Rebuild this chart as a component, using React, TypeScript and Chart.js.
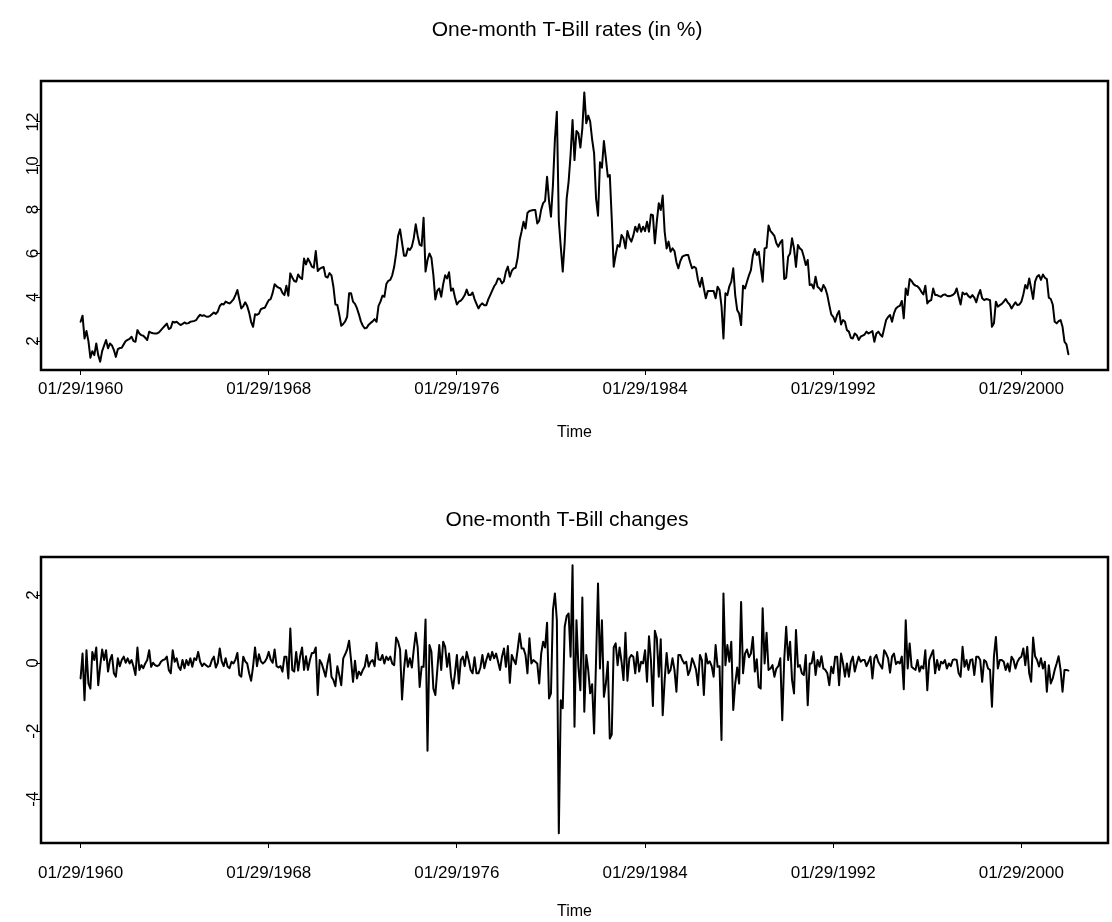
import React, { useEffect, useRef } from "react";
import { Chart, registerables } from "chart.js";

Chart.register(...registerables);

const FONT = '"Liberation Sans", Arial, Helvetica, sans-serif';

// One-month T-Bill rates (in %), monthly starting Jan 1960
const rateStepMonths = 1;
const rates = [
  2.88, 3.16, 2.12, 2.46, 2.0, 1.24, 1.54, 1.36, 1.89, 1.36,
  1.06, 1.54, 1.8, 2.05, 1.67, 1.89, 1.8, 1.59, 1.28, 1.63,
  1.68, 1.7, 1.85, 2.0, 2.05, 2.1, 2.2, 2.0, 1.97, 2.5,
  2.35, 2.27, 2.24, 2.15, 2.05, 2.43, 2.38, 2.36, 2.35, 2.35,
  2.4, 2.5, 2.6, 2.7, 2.8, 2.55, 2.6, 2.88, 2.85, 2.88,
  2.8, 2.73, 2.78, 2.85, 2.8, 2.82, 2.88, 2.9, 2.92, 2.96,
  3.1, 3.2, 3.15, 3.18, 3.12, 3.11, 3.14, 3.22, 3.3, 3.24,
  3.35, 3.6,
  3.7, 3.67, 3.8, 3.75, 3.72, 3.8, 3.9, 4.1, 4.33, 3.9,
  3.49, 3.6, 3.77, 3.6, 3.3, 2.88, 2.65, 3.22, 3.2, 3.25,
  3.46, 3.5, 3.52, 3.7, 3.87, 3.92, 4.2, 4.59, 4.5, 4.44,
  4.4, 4.2, 4.1, 4.53, 4.07, 5.09, 4.9, 4.74, 4.71, 5.04,
  4.9, 4.83, 5.77, 5.5, 5.77, 5.6, 5.4, 5.35, 6.11, 5.2,
  5.3, 5.35, 5.38, 4.94, 4.9, 5.1, 5.0, 4.48, 3.67, 3.65,
  3.2, 2.7, 2.78, 2.9, 3.11, 4.18, 4.18, 3.8, 3.7, 3.5,
  3.22, 2.9, 2.7, 2.58, 2.61, 2.75, 2.83, 2.9, 3.0, 2.88,
  3.61, 3.8, 4.07, 4.02, 4.6, 4.75,
  4.79, 5.0, 5.39, 6.0, 6.8, 7.1, 6.5, 5.9, 5.9, 6.23,
  6.16, 6.31, 6.7, 7.33, 6.8, 6.4, 6.35, 7.63, 5.17, 5.7,
  6.0, 5.8, 5.01, 3.9, 4.3, 4.4, 4.02, 4.6, 5.0, 4.86,
  5.14, 4.3, 4.4, 4.0, 3.67, 3.8, 3.85, 3.95, 4.1, 4.35,
  4.1, 4.1, 4.22, 3.92, 3.7, 3.49, 3.65, 3.72, 3.64, 3.64,
  3.9, 4.1, 4.3, 4.5, 4.63, 4.86, 4.83, 4.63, 4.74, 5.17,
  5.4, 4.94, 5.2, 5.32, 5.35, 5.8, 6.6, 7.0, 7.45, 7.14,
  7.85, 7.94, 7.96, 7.98, 7.98, 7.37, 7.5, 8.0, 8.3, 8.4,
  9.5, 8.4, 7.68, 9.12, 11.2, 12.47,
  7.47, 6.3, 5.17, 6.5, 8.5, 9.28, 10.5, 12.09, 10.26, 11.59,
  11.48, 10.83, 11.71, 13.35, 11.94, 12.29, 12.02, 11.2, 10.57, 8.51,
  7.72, 10.16, 9.91, 11.13, 10.34, 9.5, 9.58, 7.6, 5.39, 5.93,
  6.38, 6.31, 6.84, 6.69, 6.23, 7.02, 6.7, 6.54, 6.81, 7.22,
  6.99, 7.33, 6.99, 7.22, 7.02, 7.45, 6.99, 7.78, 7.75, 6.46,
  7.45, 8.29, 7.98, 8.64, 6.99, 6.23, 6.54, 6.08, 6.23, 6.11,
  5.6, 5.32, 5.65, 5.85, 5.9, 5.93, 5.93, 5.6, 5.32, 5.39,
  5.32, 4.8, 4.48, 4.89, 4.4, 3.95, 4.28, 4.28, 4.28, 4.28,
  3.95, 4.48, 4.33, 3.6, 2.12, 4.18, 4.1, 4.5,
  4.71, 5.32, 4.1, 3.42, 3.26, 2.73, 4.53, 4.4, 4.71, 5.0,
  5.24, 5.9, 6.2, 5.93, 6.08, 5.39, 4.71, 6.23, 6.26, 7.27,
  7.02, 6.92, 6.8, 6.46, 6.31, 6.5, 6.61, 4.83, 4.89, 5.85,
  6.0, 6.69, 6.23, 5.39, 6.38, 6.23, 6.16, 5.85, 5.47, 5.7,
  4.56, 4.59, 4.4, 4.94, 4.48, 4.4, 4.28, 4.56, 4.4, 4.1,
  3.64, 3.22, 3.11, 2.88, 3.2, 3.37, 2.76, 2.96, 2.88, 2.5,
  2.43, 2.15, 2.12, 2.35, 2.27, 2.05, 2.2, 2.25, 2.3, 2.43,
  2.35, 2.4, 2.46, 1.97, 2.35, 2.43, 2.3, 2.2, 2.58, 2.96,
  3.1, 3.19, 2.88, 3.26, 3.49, 3.57,
  3.61, 3.83, 3.04, 4.4, 4.1, 4.83, 4.74, 4.6, 4.53, 4.5,
  4.4, 4.25, 4.13, 4.53, 3.72, 3.83, 3.87, 4.4, 4.1, 4.1,
  4.05, 4.02, 4.1, 4.13, 4.07, 4.05, 4.07, 4.1, 4.18, 4.4,
  4.02, 3.67, 4.22, 4.13, 4.18, 4.05, 3.98, 4.1, 3.98, 3.77,
  4.1, 4.33, 3.95, 3.87, 3.92, 3.9, 3.87, 2.65, 2.81, 3.8,
  3.57, 3.64, 3.7, 3.8, 3.92, 3.77, 3.67, 3.49, 3.64, 3.77,
  3.64, 3.67, 3.8, 4.13, 4.56, 4.4, 4.86, 4.4, 3.92, 4.71,
  4.94, 5.01, 4.79, 5.04, 4.89, 4.83, 3.98, 3.92, 3.67, 2.88,
  2.81, 2.91, 2.96, 2.65, 1.97, 1.85, 1.4,
];

// One-month T-Bill changes, monthly starting Jan 1960
const changeStepMonths = 1;
const changes = [
  -0.45, 0.28, -1.09, 0.38, -0.6, -0.75, 0.33, 0.09, 0.46, -0.65,
  -0.09, 0.4, 0.09, 0.38, -0.25, 0.09, 0.24, -0.3, -0.4, 0.14,
  -0.09, 0.09, 0.19, 0.01, 0.14, -0.01, 0.09, -0.1, -0.35, 0.46,
  -0.2, -0.06, -0.15, -0.01, 0.09, 0.38, -0.11, 0.01, -0.06, -0.09,
  -0.06, 0.04, 0.09, 0.11, 0.19, -0.2, -0.3, 0.38, 0.04, 0.14,
  -0.11, -0.2, 0.09, -0.15, 0.09, -0.06, 0.14, -0.11, 0.14, 0.09,
  0.33, 0.04, -0.09, -0.01, -0.06, -0.11, -0.09, 0.09, 0.19, -0.13,
  0.01, 0.43,
  0.05, -0.09, 0.14, -0.1, -0.15, 0.04, -0.01, 0.1,
  0.3, -0.35, -0.4, 0.19, 0.05, -0.01, -0.3, -0.52, -0.1, 0.46,
  -0.09, 0.26, 0.05, -0.01, 0.04, 0.14, 0.33, 0.1, 0.01, 0.4,
  -0.09, -0.13, -0.09, -0.25, 0.19, 0.19, -0.45, 1.02, -0.2, -0.25,
  0.33, -0.22, 0.2, 0.46, -0.2, 0.2, -0.2, 0.09, 0.3, 0.3,
  0.46, -0.94, 0.09, -0.01, -0.2, -0.4, -0.01, 0.26, -0.4, -0.5,
  -0.68, -0.09, -0.35, -0.65, 0.14, 0.26, 0.4, 0.66, 0.09, -0.55,
  0.07, -0.45, -0.25, -0.35, -0.2, -0.1, 0.24, -0.1, 0.04, 0.09,
  -0.09, 0.6, 0.11, 0.09, 0.24, -0.01, 0.19, 0.09,
  0.19, -0.01,
  -0.06, 0.75, 0.63, 0.4, -1.07, -0.2, 0.38, -0.11, 0.14, -0.13,
  0.4, 0.89, 0.46, -0.7, -0.11, -0.11, 1.28, -2.58, 0.53, 0.33,
  -0.75, -0.94, -0.2, 0.53, -0.2, 0.63, 0.48, -0.11, 0.28, -0.4,
  -0.75, -0.3, 0.24, -0.6, 0.09, 0.19, -0.09, 0.33, 0.09, -0.2,
  -0.3, 0.17, -0.3, -0.3, -0.13, 0.24, -0.15, 0.09, 0.28, 0.09,
  0.33, 0.14, 0.28, 0.04, -0.2, 0.19, 0.43, -0.11, 0.5, -0.58,
  0.24, 0.09, -0.03, 0.4, 0.87, 0.43, 0.43, 0.24, -0.3, 0.73,
  -0.01, 0.09, 0.04, -0.01, -0.6, 0.28, 0.63, 0.46, 1.19, -1.04,
  -0.89, 1.56, 2.05, 1.26, -5.0, -1.09, -1.33, 1.07, 1.38, 1.46,
  0.19, 2.88, -1.87, 1.26, -0.11, -0.8, 1.93, -1.43, 0.24, -0.2,
  -0.89, -0.62, -2.07, 0.09, 2.34, -0.16, 1.26, -0.99, -0.6, 0.04,
  -2.22, -2.1, 0.46, 0.58, -0.06, 0.46, 0.04, -0.5, 0.89, -0.52,
  0.14, 0.24, 0.19, -0.3, 0.33, -0.25, 0.04, -0.01, 0.38, -0.55,
  0.79, 0.09, -1.26, 0.95, 0.73, -0.4, 0.7, -1.53, -0.5, 0.3,
  -0.3, -0.2, 0.14, -0.2, -0.84, 0.24, 0.24, 0.09, -0.01, 0.04,
  -0.35, -0.2, 0.14, -0.01, -0.2, -0.65, 0.24, 0.09, -0.94, 0.28,
  -0.01, 0.05, -0.09, -0.4, 0.53, -0.11, -0.09,
  -2.26, 2.05, -0.06, 0.53, 0.04, 0.63, -1.38, -0.6, -0.13, -0.6,
  1.8, -0.3, 0.28, 0.4, 0.17, 0.28, 0.77, -0.25, 0.11, -0.7,
  -0.75, 1.61, -0.01, 0.89, -0.2, -0.16, -0.06, -0.4, -0.16, -0.09,
  0.14, -1.68, 0.09, 1.07, 0.09, 0.63, -0.5, -0.89, 0.97, -0.11,
  -0.06, -0.3, -0.35, 0.24, -1.24, -0.01, -0.01, 0.33, -0.35, 0.09,
  -0.11, 0.2, -0.16, -0.2, -0.3, -0.65, -0.11, -0.3, 0.19, 0.19,
  -0.65, 0.28, -0.01, -0.4, -0.01, -0.4, 0.04, 0.19, -0.25, -0.01,
  0.19, 0.04, 0.09, 0.09, -0.09, 0.04, 0.19, -0.45, 0.14, 0.24,
  0.04, -0.06, -0.16, 0.38, 0.28, 0.14, -0.28, 0.19, 0.28, -0.03,
  0.04, -0.01, 0.19, -0.77, 1.26, -0.16, 0.58, -0.11, -0.16, -0.2,
  0.09, -0.25, -0.09, -0.16, 0.38, -0.8, 0.09, 0.24, 0.38, -0.3,
  0.09, -0.2, 0.04, -0.01, 0.09, -0.16, -0.01, -0.09, 0.09, 0.11,
  0.09, -0.3, -0.4, 0.48, -0.11, 0.09, -0.2, 0.09, 0.11, -0.35,
  0.19, 0.19, 0.09, -0.55, 0.09, 0.04, -0.16, -0.2, -1.28, 0.19,
  0.77, -0.16, 0.09, 0.09, 0.04, -0.2, -0.01, -0.25, 0.19, 0.09,
  -0.16, 0.04, 0.14, 0.19, 0.43, -0.06, 0.48, -0.3, -0.55, 0.75,
  0.2, 0.09, -0.1, 0.14, -0.16, 0.04, -0.84, -0.06, -0.6, -0.45,
  -0.2, -0.01, 0.2, -0.2, -0.84, -0.2, -0.2, -0.22,
];

// x axis: months since 01/29/1960
const tickMonths = [0, 96, 192, 288, 384, 480];
const tickLabels = ["01/29/1960", "01/29/1968", "01/29/1976", "01/29/1984", "01/29/1992", "01/29/2000"];
const rateTicks = [2, 4, 6, 8, 10, 12];
const changeTicks = [-4, -2, 0, 2];

const X_MIN = -20.2;
const X_MAX = 524.2;

const framePlugin = {
  id: "frame",
  afterDatasetsDraw(chart: any) {
    const { ctx, chartArea: a } = chart;
    ctx.save();
    ctx.strokeStyle = "#000";
    ctx.lineWidth = 2.5;
    ctx.strokeRect(a.left, a.top, a.right - a.left, a.bottom - a.top);
    ctx.restore();
  },
};

type Panel = {
  title: string;
  values: number[];
  step: number;
  yMin: number;
  yMax: number;
  yTicks: number[];
  titleTop: number;
  titleBottom: number;
  xAxisHeight: number;
  xTickPad: number;
  timeBottom: number;
  yTickPad: number;
};

function buildConfig(p: Panel): any {
  const points = p.values.map((v, i) => ({ x: i * p.step, y: v }));
  const tickFont = { family: FONT, size: 17, weight: "normal" as const, lineHeight: 1.2 };
  const timeFont = { family: FONT, size: 16, weight: "normal" as const, lineHeight: 1.2 };
  return {
    type: "line",
    data: {
      datasets: [
        {
          data: points,
          borderColor: "#000",
          backgroundColor: "#000",
          borderWidth: 2,
          pointRadius: 0,
          tension: 0,
          fill: false,
          borderJoinStyle: "round",
          borderCapStyle: "round",
        },
      ],
    },
    options: {
      animation: false,
      responsive: false,
      maintainAspectRatio: false,
      events: [],
      parsing: false,
      layout: { padding: { left: 26, right: 4, top: 0, bottom: 0 } },
      plugins: {
        legend: { display: false },
        tooltip: { enabled: false },
        title: {
          display: true,
          text: p.title,
          color: "#000",
          font: { family: FONT, size: 21, weight: "normal", lineHeight: 1.2 },
          padding: { top: p.titleTop, bottom: p.titleBottom },
        },
      },
      scales: {
        x: {
          type: "linear",
          min: X_MIN,
          max: X_MAX,
          afterBuildTicks: (s: any) => {
            s.ticks = tickMonths.map((v) => ({ value: v }));
          },
          afterFit: (s: any) => {
            s.height = p.xAxisHeight;
          },
          ticks: {
            autoSkip: false,
            minRotation: 0,
            maxRotation: 0,
            color: "#000",
            font: tickFont,
            padding: p.xTickPad,
            callback: (v: number) => {
              const i = tickMonths.indexOf(v);
              return i >= 0 ? tickLabels[i] : "";
            },
          },
          grid: { display: true, drawOnChartArea: false, drawTicks: true, tickLength: 5, color: "#000", lineWidth: 1 },
          border: { display: false },
          title: {
            display: true,
            text: "Time",
            color: "#000",
            font: timeFont,
            padding: { top: 0, bottom: p.timeBottom },
          },
        },
        y: {
          type: "linear",
          min: p.yMin,
          max: p.yMax,
          afterBuildTicks: (s: any) => {
            s.ticks = p.yTicks.map((v) => ({ value: v }));
          },
          afterFit: (s: any) => {
            s.width = 15;
          },
          ticks: {
            minRotation: 90,
            maxRotation: 90,
            crossAlign: "center",
            padding: p.yTickPad,
            color: "#000",
            font: tickFont,
            callback: (v: number) => String(v),
          },
          grid: { display: true, drawOnChartArea: false, drawTicks: true, tickLength: 5, color: "#000", lineWidth: 1 },
          border: { display: false },
        },
      },
    },
    plugins: [framePlugin],
  };
}

const topPanel: Panel = {
  title: "One-month T-Bill rates (in %)",
  values: rates,
  step: rateStepMonths,
  yMin: 0.68,
  yMax: 13.87,
  yTicks: rateTicks,
  titleTop: 17.4,
  titleBottom: 38.4,
  xAxisHeight: 91,
  xTickPad: 3.8,
  timeBottom: 19,
  yTickPad: -6.4,
};

const bottomPanel: Panel = {
  title: "One-month T-Bill changes",
  values: changes,
  step: changeStepMonths,
  yMin: -5.29,
  yMax: 3.12,
  yTicks: changeTicks,
  titleTop: 46.4,
  titleBottom: 24.4,
  xAxisHeight: 79,
  xTickPad: 14.8,
  timeBottom: 0.5,
  yTickPad: -4.5,
};

function PanelChart({ panel, top }: { panel: Panel; top: number }) {
  const ref = useRef<HTMLCanvasElement | null>(null);
  useEffect(() => {
    if (!ref.current) return;
    const chart = new Chart(ref.current, buildConfig(panel));
    return () => chart.destroy();
  }, [panel]);
  return (
    <canvas
      ref={ref}
      width={1112}
      height={461}
      style={{ position: "absolute", left: 0, top, width: 1112, height: 461, display: "block" }}
    />
  );
}

export default function App() {
  return (
    <div style={{ position: "absolute", left: 0, top: 0, width: 1112, height: 922, background: "#fff", overflow: "hidden" }}>
      <PanelChart panel={topPanel} top={0} />
      <PanelChart panel={bottomPanel} top={461} />
    </div>
  );
}
